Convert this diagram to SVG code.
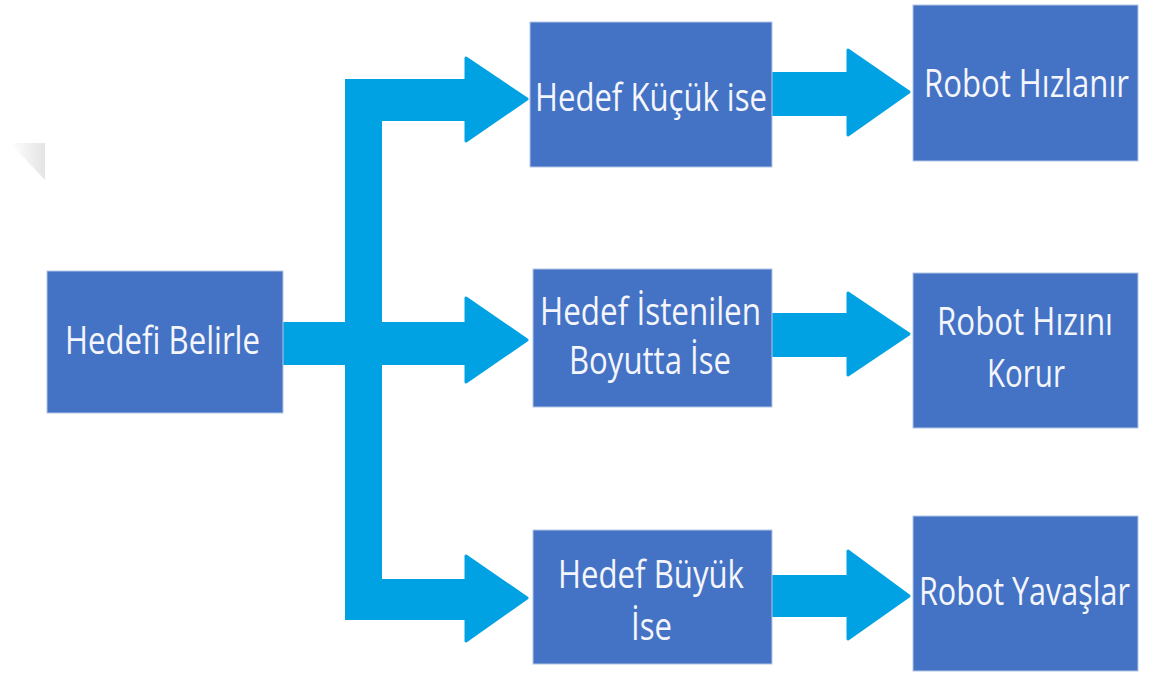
<svg xmlns="http://www.w3.org/2000/svg" width="1150" height="673" viewBox="0 0 1150 673">
  <defs>
    <linearGradient id="fold" x1="0" y1="0" x2="1" y2="0">
      <stop offset="0" stop-color="#ffffff"/>
      <stop offset="1" stop-color="#e4e4e4"/>
    </linearGradient>
  </defs>
  <style>
    .box { fill: #4472c4; stroke: #b4c6e7; stroke-width: 1; }
    .lbl { font-family: "Open Sans", "Noto Sans", "DejaVu Sans", sans-serif; font-size: 38px; fill: #f4f6fb; }
    .bar { fill: #00a2e4; }
    .head { fill: #00a2e4; stroke: #00a2e4; stroke-width: 3; stroke-linejoin: round; }
  </style>
  <rect width="1150" height="673" fill="#ffffff"/>
  <!-- small folded corner mark -->
  <polygon points="10,143 45,143 45,180" fill="url(#fold)"/>

  <g id="connectors">
    <!-- branching trunk from the start node -->
    <rect class="bar" x="345" y="79" width="37" height="541"/>
    <rect class="bar" x="283" y="322" width="184" height="43"/>
    <rect class="bar" x="345" y="79" width="122" height="42"/>
    <rect class="bar" x="345" y="579" width="122" height="41"/>
    <polygon class="head" points="466,58 527,99 466,141"/>
    <polygon class="head" points="466,298 527,340 466,382"/>
    <polygon class="head" points="466,556 527,598 466,641"/>
    <!-- condition to result arrows -->
    <rect class="bar" x="772" y="72" width="77" height="44"/>
    <polygon class="head" points="848,50 909,92 848,135"/>
    <rect class="bar" x="772" y="313" width="77" height="44"/>
    <polygon class="head" points="848,293 909,334 848,375"/>
    <rect class="bar" x="772" y="575" width="77" height="42"/>
    <polygon class="head" points="848,551 909,596 848,639"/>
  </g>

  <!-- labels are condensed horizontally (scale 0.8) to get a narrow face -->
  <g id="hedefi-belirle">
    <rect class="box" x="47" y="271" width="236" height="142"/>
    <text class="lbl" transform="translate(65,354) scale(0.8,1)" textLength="243.75" lengthAdjust="spacingAndGlyphs">Hedefi Belirle</text>
  </g>

  <g id="hedef-kucuk">
    <rect class="box" x="530" y="22" width="242" height="145"/>
    <text class="lbl" transform="translate(535,111) scale(0.8,1)" textLength="290" lengthAdjust="spacingAndGlyphs">Hedef Küçük ise</text>
  </g>

  <g id="hedef-istenilen">
    <rect class="box" x="533" y="269" width="239" height="138"/>
    <text class="lbl" transform="translate(540,325) scale(0.8,1)" textLength="276.25" lengthAdjust="spacingAndGlyphs">Hedef İstenilen</text>
    <text class="lbl" transform="translate(569,374) scale(0.8,1)" textLength="202.5" lengthAdjust="spacingAndGlyphs">Boyutta İse</text>
  </g>

  <g id="hedef-buyuk">
    <rect class="box" x="533" y="530" width="239" height="134"/>
    <text class="lbl" transform="translate(558,588) scale(0.8,1)" textLength="232.5" lengthAdjust="spacingAndGlyphs">Hedef Büyük</text>
    <text class="lbl" transform="translate(631,640) scale(0.8,1)" textLength="51.25" lengthAdjust="spacingAndGlyphs">İse</text>
  </g>

  <g id="robot-hizlanir">
    <rect class="box" x="913" y="5" width="225" height="156"/>
    <text class="lbl" transform="translate(924,97) scale(0.8,1)" textLength="256.25" lengthAdjust="spacingAndGlyphs">Robot Hızlanır</text>
  </g>

  <g id="robot-hizini-korur">
    <rect class="box" x="913" y="273" width="225" height="155"/>
    <text class="lbl" transform="translate(937,335) scale(0.8,1)" textLength="220" lengthAdjust="spacingAndGlyphs">Robot Hızını</text>
    <text class="lbl" transform="translate(987,387) scale(0.8,1)" textLength="97.5" lengthAdjust="spacingAndGlyphs">Korur</text>
  </g>

  <g id="robot-yavaslar">
    <rect class="box" x="913" y="516" width="225" height="155"/>
    <text class="lbl" transform="translate(919,605) scale(0.8,1)" textLength="263.75" lengthAdjust="spacingAndGlyphs">Robot Yavaşlar</text>
  </g>
</svg>
